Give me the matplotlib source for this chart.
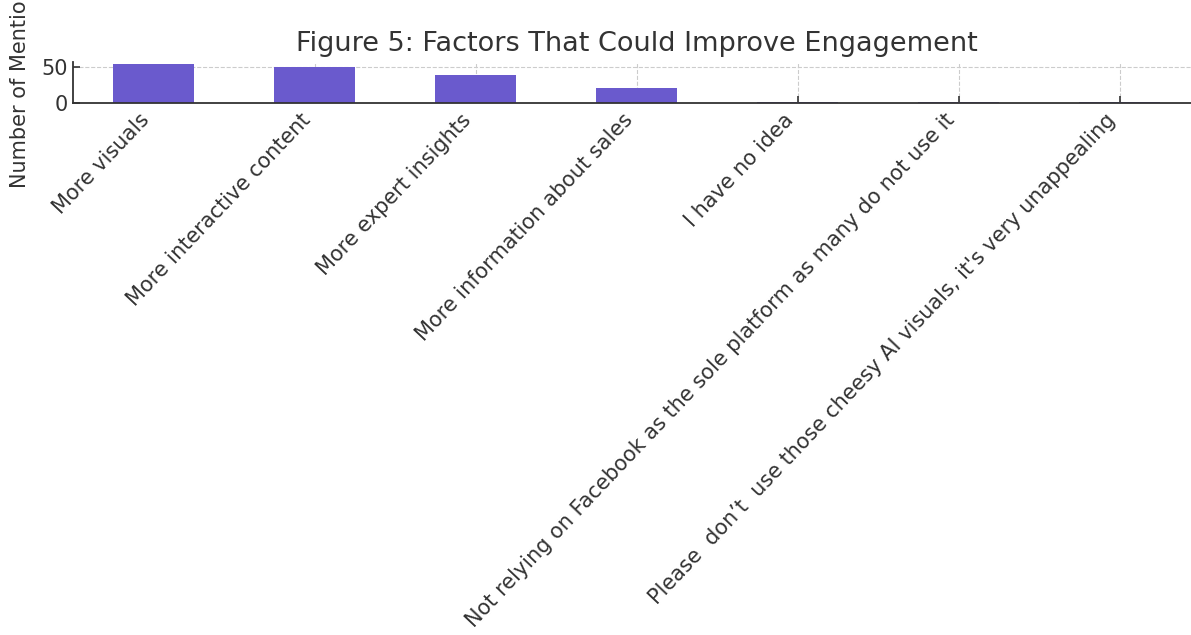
import numpy as np
import matplotlib
matplotlib.use("Agg")
import matplotlib.pyplot as plt

factors = [
    "More visuals",
    "More interactive content",
    "More expert insights",
    "More information about sales",
    "I have no idea",
    "Not relying on Facebook as the sole platform as many do not use it",
    "Please  don\u2019t  use those cheesy AI visuals, it's very unappealing",
]
mentions = [54, 50, 39, 21, 2, 1, 1]

text_color = "#333333"
plt.rcParams["font.family"] = ["DejaVu Sans"]

fig = plt.figure(figsize=(11.91, 6.35), dpi=100)
ax = fig.add_axes([0.0613, 0.8378, 0.9463, 0.0642])

x = np.arange(len(factors))
ax.bar(x, mentions, width=0.5, color="#6A5ACD", zorder=2)

ax.set_xlim(-0.5, len(factors) - 0.5)
ax.set_ylim(0, 56.7)
ax.set_yticks([0, 50])
ax.set_xticks(x)
ax.set_xticklabels(factors, rotation=46.5, ha="right", fontsize=15, color=text_color)
ax.tick_params(axis="y", labelsize=15, labelcolor=text_color, pad=4)
ax.tick_params(axis="x", pad=5)
ax.tick_params(direction="in", length=5, width=1.2, color=text_color)

ax.grid(True, linestyle="--", color="#cccccc", linewidth=0.8, zorder=0)
ax.set_axisbelow(True)

for side in ["top", "right"]:
    ax.spines[side].set_visible(False)
for side in ["left", "bottom"]:
    ax.spines[side].set_color(text_color)
    ax.spines[side].set_linewidth(1.3)

ax.set_ylabel("Number of Mentions", fontsize=15, color=text_color, labelpad=8)
ax.set_title("Figure 5: Factors That Could Improve Engagement",
             fontsize=19.5, color=text_color, pad=8)

fig.savefig("out.png", dpi=100)
